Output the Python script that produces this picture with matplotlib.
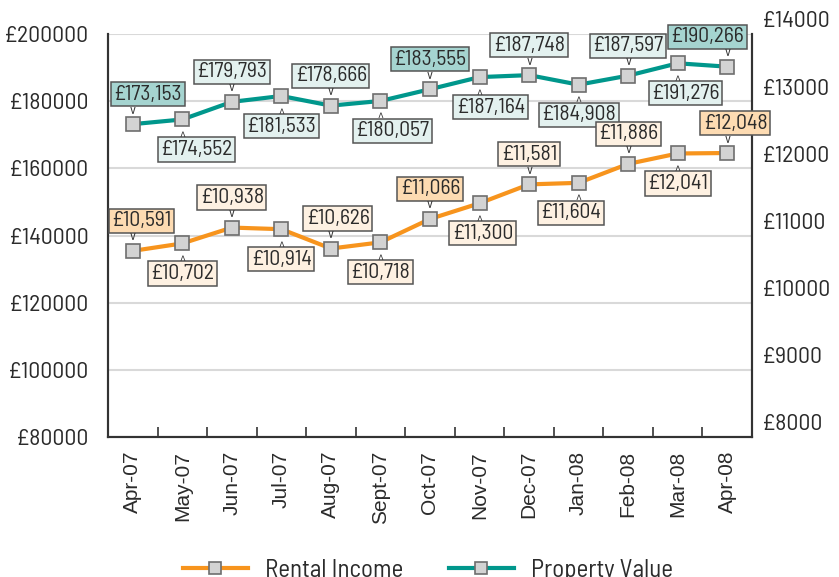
import matplotlib
matplotlib.use('Agg')
import matplotlib.pyplot as plt
from matplotlib.lines import Line2D

months = ['Apr-07', 'May-07', 'Jun-07', 'Jul-07', 'Aug-07', 'Sept-07', 'Oct-07',
          'Nov-07', 'Dec-07', 'Jan-08', 'Feb-08', 'Mar-08', 'Apr-08']
property_value = [173153, 174552, 179793, 181533, 178666, 180057, 183555,
                  187164, 187748, 184908, 187597, 191276, 190266]
rental_income = [10591, 10702, 10938, 10914, 10626, 10718, 11066,
                 11300, 11581, 11604, 11886, 12041, 12048]
left_ticks = [80000, 100000, 120000, 140000, 160000, 180000, 200000]
right_ticks = [8000, 9000, 10000, 11000, 12000, 13000, 14000]

narrow = ['Barlow Semi Condensed', 'DejaVu Sans']
teal = '#00978c'
orange = '#f7941d'
text_col = '#2b2b2b'

fig = plt.figure(figsize=(8.39, 5.77), dpi=100)
ax = fig.add_axes([0.1287, 0.2426, 0.7676, 0.6985])
ax2 = ax.twinx()

x = list(range(len(months)))
ax.plot(x, property_value, color=teal, lw=3, marker='s', ms=10,
        mfc='#d3d3d3', mec='#6e6e6e', mew=1.2, zorder=3)
ax2.plot(x, rental_income, color=orange, lw=3, marker='s', ms=10,
         mfc='#d3d3d3', mec='#6e6e6e', mew=1.2, zorder=3)

ax.set_xlim(-0.5, 12.5)
ax.set_ylim(80000, 200000)
ax2.set_ylim(7820, 13820)

# grid + spines
ax.set_yticks(left_ticks, labels=['£%d' % t for t in left_ticks])
ax.grid(axis='y', color='#d9d9d9', lw=1.5)
ax.set_axisbelow(True)
for a in (ax, ax2):
    a.spines['top'].set_visible(False)
    for s in ('left', 'right', 'bottom'):
        a.spines[s].set_color('#333333')
        a.spines[s].set_linewidth(1.5)
ax.tick_params(axis='y', length=0, pad=14, labelsize=17, labelcolor=text_col)
for lbl in ax.get_yticklabels():
    lbl.set_family(narrow)

ax.set_xticks(x, labels=months, rotation=90)
ax.set_xticks([i + 0.5 for i in x[:-1]], minor=True)
ax.tick_params(axis='x', which='major', length=0, pad=10, labelsize=15,
               labelcolor=text_col)
ax.tick_params(axis='x', which='minor', direction='in', length=7, width=1.2,
               color='#333333')
for lbl in ax.get_xticklabels():
    lbl.set_family(['Liberation Sans', 'DejaVu Sans'])

# right axis labels (they sit a little above the gridlines in the original)
ax2.set_yticks([])
for t in right_ticks:
    ax2.annotate('£%d' % t, xy=(1.0, t), xycoords=('axes fraction', 'data'),
                 xytext=(10, 0), textcoords='offset pixels', ha='left',
                 va='center', fontsize=17, color=text_col, family=narrow,
                 annotation_clip=False)

# data labels
prop_dx = [15, 14, 0, 0, 0, 12, 0, 11, 0, 0, 0, 8, -20]
rent_dx = [9, 0, 0, 0, 7, 0, 0, 3, 0, -8, 0, 0, 8]
highlight = [0, 6, 12]


def add_labels(a, vals, dx, dark, light):
    for i, v in enumerate(vals):
        up = i % 2 == 0
        sign = 1 if up else -1
        fc = dark if i in highlight else light
        a.annotate('£{:,}'.format(v), xy=(i, v), xytext=(dx[i], 30 * sign),
                   textcoords='offset pixels', ha='center', va='center',
                   fontsize=15.5, family=narrow, color=text_col, zorder=5,
                   bbox=dict(boxstyle='square,pad=0.12', fc=fc, ec='#555555',
                             lw=1.1),
                   annotation_clip=False)
        a.annotate('v' if up else '^', xy=(i, v),
                   xytext=(0, 14 if up else -18),
                   textcoords='offset pixels', ha='center', va='center',
                   fontsize=10, family=narrow, color='#333333', zorder=5,
                   annotation_clip=False)


add_labels(ax, property_value, prop_dx, '#a5d4d0', '#e3f1ef')
add_labels(ax2, rental_income, rent_dx, '#fddbb2', '#fef1e2')

# legend (cut by the bottom edge like the original)
handles = [
    Line2D([], [], color=orange, lw=3, marker='s', ms=9, mfc='#d3d3d3',
           mec='#6e6e6e', mew=1.2),
    Line2D([], [], color=teal, lw=3, marker='s', ms=9, mfc='#d3d3d3',
           mec='#6e6e6e', mew=1.2),
]
fig.legend(handles, ['Rental Income', 'Property Value'], loc='center',
           bbox_to_anchor=(0.51, 0.012), ncol=2, frameon=False,
           handlelength=2.6, handletextpad=0.7, columnspacing=1.8,
           prop={'family': narrow, 'size': 18}, labelcolor=text_col)

fig.savefig('out.png', dpi=100)
